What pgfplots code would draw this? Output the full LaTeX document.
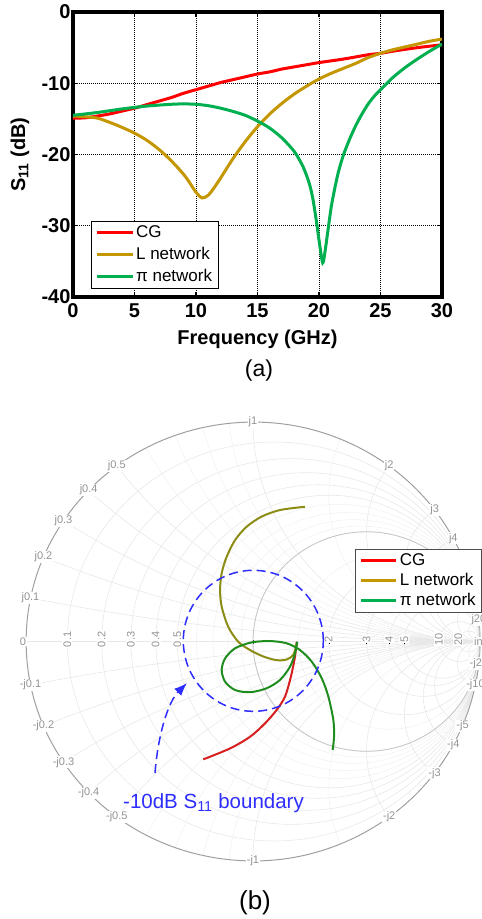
\documentclass[border=0pt]{standalone}
\usepackage{pgfplots}
\pgfplotsset{compat=1.18}
\usepgfplotslibrary{smithchart}
\usetikzlibrary{arrows.meta}
\usepackage{fontspec}
\setmainfont{Liberation Sans}
\definecolor{cgred}{RGB}{255,0,0}
\definecolor{lgold}{RGB}{196,150,0}
\definecolor{pigreen}{RGB}{0,176,80}
\definecolor{sred}{RGB}{215,30,30}
\definecolor{solive}{RGB}{140,140,20}
\definecolor{sgreen}{RGB}{30,140,30}
\definecolor{bblue}{RGB}{45,45,255}
\begin{document}
\begin{tikzpicture}[smlbl/.style={fill=white, inner sep=1pt, text=gray!85, font=\fontsize{11}{12}\selectfont}]
\useasboundingbox (0pt,0pt) rectangle (482pt,-919pt);
\clip (0pt,0pt) rectangle (482pt,-919pt);
\begin{axis}[
  at={(73pt,-297pt)}, anchor=south west,
  width=369pt, height=285pt, scale only axis,
  xmin=0, xmax=30, ymin=-40, ymax=0,
  xtick={0,5,10,15,20,25,30}, xticklabels={0,5,10,15,20,25,30},
  ytick={-40,-30,-20,-10,0}, yticklabels={-40,-30,-20,-10,0},
  grid=major,
  major grid style={black, line width=0.9pt, dash pattern=on 1pt off 1pt},
  axis line style={line width=3.5pt},
  tick align=inside, major tick length=5pt, tick style={black, line width=1.2pt},
  ticklabel style={font=\fontsize{20}{24}\selectfont\bfseries},
  xticklabel style={yshift=-3pt},
  yticklabel style={xshift=1pt},
  xlabel={Frequency (GHz)},
  ylabel={S\textsubscript{11} (dB)},
  label style={font=\fontsize{20}{24}\selectfont\bfseries},
  xlabel style={at={(axis description cs:0.5,-0.147)}, anchor=center},
  ylabel style={at={(axis description cs:-0.1436,0.5)}, anchor=center},
  legend style={at={(axis description cs:0.048,0.268)}, anchor=north west,
    draw=black, line width=0.8pt, font=\fontsize{17}{20}\selectfont,
    nodes={inner sep=2pt, text height=12pt, text depth=3pt}, row sep=3pt,
    inner xsep=4pt, inner ysep=2pt},
  legend cell align=left,
  legend image code/.code={\draw[#1] (0pt,0pt) -- (36pt,0pt);},
]
\addplot[cgred, line width=3pt, smooth] coordinates {
(0,-14.9) (1,-14.85) (2,-14.6) (3,-14.3) (4,-13.9) (5,-13.5) (6,-13.0) (7,-12.5)
(8,-12.0) (9,-11.4) (10,-10.9) (11,-10.4) (12,-9.9) (13,-9.5) (14,-9.1) (15,-8.7)
(16,-8.4) (17,-8.0) (18,-7.7) (19,-7.4) (20,-7.1) (22,-6.6) (24,-6.0) (25,-5.8)
(26,-5.5) (28,-5.0) (30,-4.6)};
\addlegendentry{CG}
\addplot[lgold, line width=3pt, smooth] coordinates {
(0,-14.6) (1,-14.7) (2,-14.9) (3,-15.5) (4,-16.2) (5,-17.0) (6,-18.0) (7,-19.3)
(8,-20.9) (9,-22.8) (9.5,-24.0) (10,-25.3) (10.5,-26.1) (11,-25.7) (11.5,-24.6)
(12,-23.3) (13,-20.6) (14,-18.2) (15,-16.1) (16,-14.3) (17,-12.8) (18,-11.5)
(19,-10.4) (20,-9.4) (21,-8.6) (22,-7.9) (23,-7.2) (24,-6.4) (25,-5.8) (26,-5.3)
(27,-4.9) (28,-4.5) (29,-4.1) (30,-3.8)};
\addlegendentry{L network}
\addplot[pigreen, line width=3pt, smooth, tension=0.45] coordinates {
(0,-14.5) (2,-14.1) (4,-13.6) (6,-13.2) (8,-12.95) (9,-12.9) (10,-12.95) (11,-13.15)
(12,-13.5) (13,-13.95) (14,-14.5) (15,-15.3) (16,-16.3) (17,-17.7) (18,-19.6)
(18.7,-21.7) (19.2,-24.0) (19.5,-26.2) (19.8,-29.5) (20.0,-32.0) (20.3,-35.2)
(20.5,-33.5) (20.7,-31.0) (21.0,-27.3) (21.3,-24.6) (21.6,-22.3) (22.0,-20.0)
(22.5,-17.8) (23.0,-15.9) (23.5,-14.3) (24.0,-12.9) (24.5,-11.8) (25.0,-10.9)
(26.0,-9.2) (27.0,-7.8) (28.0,-6.6) (29.0,-5.5) (30.0,-4.5)};
\addlegendentry{π network}
\end{axis}
\node[font=\fontsize{23}{26}\selectfont] at (259pt,-371pt) {(a)};

\begin{smithchart}[
  name=smith,
  at={(253pt,-641.5pt)}, anchor=center,
  width=454pt, height=439pt, scale only axis,
  clip=false,
  show origin=false,
  show origin code/.code={},
  xtick={0.1,0.2,0.3,0.4,0.5,1,2,3,4,5,10,20},
  xticklabels={0.1,0.2,0.3,0.4,0.5,,2,3,4,5,10,20},
  minor xtick={0.6,0.7,0.8,0.9,1.5},
  ytick={-20,-10,-5,-4,-3,-2,-1,-0.5,-0.4,-0.3,-0.2,-0.1,0.1,0.2,0.3,0.4,0.5,1,2,3,4,5,10,20},
  yticklabels={},
  minor ytick={-0.9,-0.8,-0.7,-0.6,-1.5,0.6,0.7,0.8,0.9,1.5},
  grid=both,
  major grid style={gray!18, line width=0.6pt},
  minor grid style={gray!12, line width=0.5pt},
  x axis line style={gray!18, line width=0.6pt},
  y axis line style={gray!75, line width=1pt},
  tick style={draw=none},
  ticklabel style={font=\fontsize{11}{12}\selectfont, text=gray!85},
  xticklabel style={rotate=90, anchor=center, fill=white, inner sep=1pt},
  yticklabel style={fill=none, draw=none},
  legend style={at={(0.725,0.711)}, anchor=north west,
    draw=gray!60!black, line width=1.2pt, font=\fontsize{17}{20}\selectfont,
    nodes={inner sep=2pt, text height=12pt, text depth=3pt}, row sep=1pt,
    inner xsep=4pt, inner ysep=2pt},
  legend cell align=left,
  legend image code/.code={\draw[#1] (0pt,0pt) -- (35pt,0pt);},
]
\draw[gray!45, line width=0.8pt] (axis cs:3,0) ellipse [x radius=113.5pt, y radius=109.75pt];
\addplot[sred, line width=2pt, smooth, is smithchart cs, forget plot] coordinates {
(0.1925,-0.001) (0.185,-0.069) (0.167,-0.160) (0.141,-0.251) (0.104,-0.312)
(0.053,-0.373) (-0.013,-0.434) (-0.101,-0.487) (-0.219,-0.537)};
\addplot[solive, line width=2pt, smooth, is smithchart cs, forget plot] coordinates {
(0.1925,-0.008) (0.178,-0.060) (0.148,-0.082) (0.104,-0.085) (0.045,-0.068)
(-0.013,-0.039) (-0.065,-0.001) (-0.109,0.067) (-0.138,0.159) (-0.145,0.235)
(-0.138,0.311) (-0.116,0.386) (-0.079,0.462) (-0.028,0.523) (0.038,0.569)
(0.119,0.599) (0.229,0.614)};
\addplot[sgreen, line width=2pt, smooth, is smithchart cs, forget plot] coordinates {
(0.195,-0.001) (0.185,-0.054) (0.163,-0.115) (0.119,-0.175) (0.060,-0.213)
(-0.013,-0.231) (-0.079,-0.221) (-0.123,-0.183) (-0.138,-0.130) (-0.123,-0.077)
(-0.079,-0.031) (-0.006,-0.004) (0.075,0.002) (0.148,-0.008) (0.207,-0.039)
(0.259,-0.092) (0.303,-0.168) (0.332,-0.251) (0.354,-0.358) (0.357,-0.434)
(0.351,-0.494)};
\addlegendimage{cgred, line width=3pt}
\addlegendentry{CG}
\addlegendimage{lgold, line width=3pt}
\addlegendentry{L network}
\addlegendimage{pigreen, line width=3pt}
\addlegendentry{π network}
\node[smlbl] at (axis cs:0,0.1) {j0.1};
\node[smlbl] at (axis cs:0,0.2) {j0.2};
\node[smlbl] at (axis cs:0,0.3) {j0.3};
\node[smlbl] at (axis cs:0,0.4) {j0.4};
\node[smlbl] at (axis cs:0,0.5) {j0.5};
\node[smlbl] at (axis cs:0,1) {j1};
\node[smlbl] at (axis cs:0,2) {j2};
\node[smlbl] at (axis cs:0,3) {j3};
\node[smlbl] at (axis cs:0,4) {j4};
\node[smlbl] at (axis cs:0,5) {j5};
\node[smlbl] at (axis cs:0,10) {j10};
\node[smlbl] at (axis cs:0,20) {j20};
\node[smlbl] at (axis cs:0,-0.1) {-j0.1};
\node[smlbl] at (axis cs:0,-0.2) {-j0.2};
\node[smlbl] at (axis cs:0,-0.3) {-j0.3};
\node[smlbl] at (axis cs:0,-0.4) {-j0.4};
\node[smlbl] at (axis cs:0,-0.5) {-j0.5};
\node[smlbl] at (axis cs:0,-1) {-j1};
\node[smlbl] at (axis cs:0,-2) {-j2};
\node[smlbl] at (axis cs:0,-3) {-j3};
\node[smlbl] at (axis cs:0,-4) {-j4};
\node[smlbl] at (axis cs:0,-5) {-j5};
\node[smlbl] at (axis cs:0,-10) {-j10};
\node[smlbl] at (axis cs:0,-20) {-j20};
\end{smithchart}
\node[smlbl] at (23pt,-641.5pt) {0};
\node[smlbl, anchor=west] at (473pt,-641.5pt) {inf};
\draw[bblue, line width=1.5pt, dash pattern=on 9pt off 5pt] (253.3pt,-640.8pt) ellipse [x radius=70pt, y radius=70.5pt];
\draw[bblue, line width=1.5pt, dash pattern=on 9pt off 5pt, -{Latex[length=13pt,width=10pt]}]
  (155pt,-773pt) .. controls (158pt,-735pt) and (168pt,-702pt) .. (187pt,-683pt);
\node[text=bblue, font=\fontsize{20.5}{24}\selectfont] at (213.5pt,-803pt) {-10dB S\textsubscript{11} boundary};
\node[font=\fontsize{26}{30}\selectfont] at (255pt,-903pt) {(b)};
\end{tikzpicture}
\end{document}
